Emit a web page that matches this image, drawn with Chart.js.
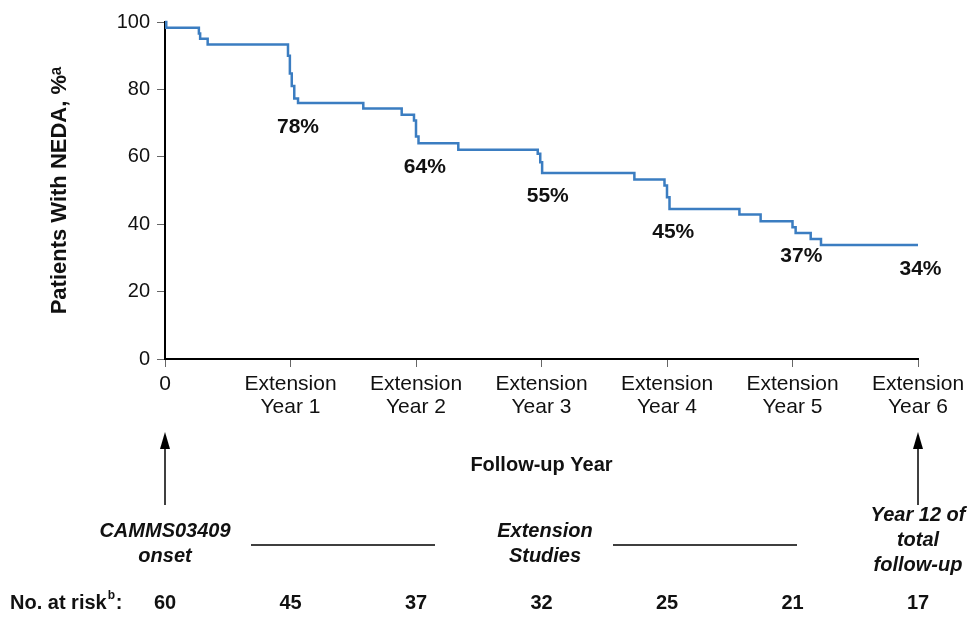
<!DOCTYPE html>
<html>
<head>
<meta charset="utf-8">
<script src="https://cdn.jsdelivr.net/npm/chart.js@4.4.0/dist/chart.umd.min.js"></script>
<style>
  html, body { margin: 0; padding: 0; background: #fff; }
</style>
</head>
<body>
<canvas id="neda" width="971" height="620"></canvas>
<script>
// Kaplan-Meier style NEDA curve (years since onset, %)
const years = [0, 0.01, 0.27, 0.28, 0.34, 0.98, 0.995, 1.01, 1.03, 1.06, 1.58, 1.886, 1.984, 2.0, 2.02,
  2.337, 2.97, 2.99, 3.005, 3.74, 3.98, 4.0, 4.02, 4.577, 4.746, 5.0, 5.025, 5.145, 5.227, 6.0];
const neda = [100, 98.3, 96.6, 95.0, 93.3, 90.0, 84.7, 81.0, 77.3, 76.0, 74.3, 72.5, 70.8, 66.0, 64.0,
  62.1, 60.9, 58.4, 55.2, 53.3, 51.5, 48.0, 44.5, 42.9, 40.9, 39.1, 37.4, 35.6, 33.8, 33.8];

const xTickLabels = [["0"], ["Extension", "Year 1"], ["Extension", "Year 2"], ["Extension", "Year 3"],
  ["Extension", "Year 4"], ["Extension", "Year 5"], ["Extension", "Year 6"]];
const yearPct = [78, 64, 55, 45, 37, 34];
const atRisk = [60, 45, 37, 32, 25, 21, 17];

const FONT = '"Liberation Sans", Arial, sans-serif';
const INK = "#111";

// where the yearly % labels sit (in axis units)
const pctSpots = [[1.06, 68.8], [2.07, 57.0], [3.05, 48.2], [4.05, 37.5], [5.07, 30.6], [6.02, 26.6]];

const extras = {
  id: "extras",
  afterDraw(chart) {
    const { ctx, scales: { x, y } } = chart;
    ctx.save();
    ctx.fillStyle = INK;
    ctx.strokeStyle = "#000";
    ctx.textAlign = "center";
    ctx.textBaseline = "middle";

    ctx.font = "bold 21px " + FONT;
    pctSpots.forEach((s, i) => {
      ctx.fillText(yearPct[i] + "%", x.getPixelForValue(s[0]), y.getPixelForValue(s[1]));
    });
    ctx.font = "bold 20px " + FONT;
    ctx.fillText("Follow-up Year", (x.left + x.right) / 2, 465);

    // arrows up to the axis
    [0, 6].forEach(v => {
      const px = x.getPixelForValue(v);
      ctx.lineWidth = 1.5;
      ctx.beginPath();
      ctx.moveTo(px, 505);
      ctx.lineTo(px, 445);
      ctx.stroke();
      ctx.beginPath();
      ctx.moveTo(px, 432);
      ctx.lineTo(px - 5, 449);
      ctx.lineTo(px + 5, 449);
      ctx.closePath();
      ctx.fillStyle = "#000";
      ctx.fill();
    });
    ctx.fillStyle = INK;

    ctx.font = "italic bold 20px " + FONT;
    const x0 = x.getPixelForValue(0);
    const x6 = x.getPixelForValue(6);
    ctx.fillText("CAMMS03409", x0, 531);
    ctx.fillText("onset", x0, 556);
    ctx.fillText("Extension", 545, 531);
    ctx.fillText("Studies", 545, 556);
    ctx.fillText("Year 12 of", x6, 515);
    ctx.fillText("total", x6, 540);
    ctx.fillText("follow-up", x6, 565);

    ctx.lineWidth = 1.5;
    ctx.beginPath();
    ctx.moveTo(251, 545); ctx.lineTo(435, 545);
    ctx.moveTo(613, 545); ctx.lineTo(797, 545);
    ctx.stroke();

    // numbers at risk
    ctx.font = "bold 20px " + FONT;
    ctx.textAlign = "left";
    ctx.fillText("No. at risk", 10, 603);
    const w = ctx.measureText("No. at risk").width;
    ctx.font = "bold 12px " + FONT;
    ctx.fillText("b", 10 + w + 1, 596);
    ctx.font = "bold 20px " + FONT;
    ctx.fillText(":", 10 + w + 9, 603);
    ctx.textAlign = "center";
    atRisk.forEach((n, i) => ctx.fillText(String(n), x.getPixelForValue(i), 603));
    ctx.restore();
  }
};

const ctx = document.getElementById("neda").getContext("2d");
new Chart(ctx, {
  type: "line",
  data: {
    datasets: [
      {
        data: years.map((t, i) => ({ x: t, y: neda[i] })),
        stepped: "before",
        borderColor: "#3b7dc1",
        borderWidth: 2.5,
        pointRadius: 0,
        fill: false,
        clip: 4,
      },
    ],
  },
  options: {
    responsive: false,
    animation: false,
    devicePixelRatio: 1,
    layout: { padding: { left: 43, right: 53, top: 22, bottom: 0 } },
    plugins: { legend: { display: false }, tooltip: { enabled: false } },
    scales: {
      x: {
        type: "linear",
        min: 0,
        max: 6,
        afterFit: scale => { scale.height = 261; },
        ticks: {
          stepSize: 1,
          autoSkip: false,
          maxRotation: 0,
          padding: 5,
          color: INK,
          font: { family: FONT, size: 21, lineHeight: 1.12 },
          callback: v => xTickLabels[v],
        },
        grid: { drawOnChartArea: false, tickLength: 8, color: "#666" },
        border: { color: "#000", width: 2 },
      },
      y: {
        min: 0,
        max: 100,
        afterFit: scale => { scale.width = 122; },
        ticks: {
          stepSize: 20,
          padding: 7,
          color: INK,
          font: { family: FONT, size: 20 },
        },
        grid: { drawOnChartArea: false, tickLength: 8, color: "#666" },
        border: { color: "#000", width: 2 },
        title: {
          display: true,
          text: "Patients With NEDA, %\u1d43",
          color: INK,
          font: { family: FONT, size: 22, weight: "bold" },
        },
      },
    },
  },
  plugins: [extras],
});
</script>
</body>
</html>
